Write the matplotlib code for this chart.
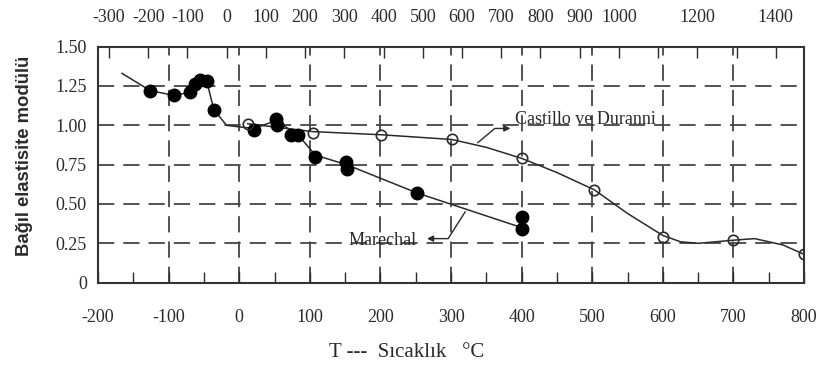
import matplotlib
matplotlib.use("Agg")
import matplotlib.pyplot as plt
from matplotlib.ticker import FixedLocator, MultipleLocator

plt.rcParams["font.family"] = ["Liberation Serif", "DejaVu Serif"]
plt.rcParams["axes.unicode_minus"] = False

# Marechal (filled markers)
mar_t = [-126, -92, -70, -63, -56, -46, -36, 21, 52, 53, 73, 83, 108, 151, 153, 252, 400, 400]
mar_e = [1.22, 1.19, 1.21, 1.26, 1.29, 1.28, 1.10, 0.97, 1.04, 1.00, 0.94, 0.94, 0.80, 0.77, 0.72, 0.57, 0.34, 0.42]
# Marechal curve as drawn
mar_line_t = [-166, -126, -92, -70, -56, -46, -36, -18, 0, 21, 52, 83, 108, 152, 252, 400]
mar_line_e = [1.33, 1.22, 1.19, 1.21, 1.29, 1.28, 1.10, 1.00, 0.99, 0.98, 1.03, 0.94, 0.81, 0.75, 0.57, 0.35]

# Castillo ve Duranni (open markers)
cas_t = [12, 104, 201, 301, 400, 503, 600, 700, 800]
cas_e = [1.01, 0.95, 0.94, 0.91, 0.79, 0.59, 0.29, 0.27, 0.18]
# Castillo curve as drawn
cas_line_t = [12, 104, 201, 301, 350, 400, 450, 503, 550, 600, 625, 650, 700, 730, 770, 800]
cas_line_e = [1.01, 0.96, 0.94, 0.91, 0.86, 0.79, 0.70, 0.59, 0.44, 0.30, 0.26, 0.25, 0.27, 0.28, 0.24, 0.18]

y_ticks = [0, 0.25, 0.50, 0.75, 1.00, 1.25, 1.50]
y_labels = ["0", "0.25", "0.50", "0.75", "1.00", "1.25", "1.50"]
x_ticks = [-200, -100, 0, 100, 200, 300, 400, 500, 600, 700, 800]
f_ticks = list(range(-300, 1500, 100))
f_labels = ["" if f in (1100, 1300) else str(f) for f in f_ticks]

ink = "#2a2a2a"
fs = 13
fig = plt.figure(figsize=(8.19, 3.70), dpi=100)
ax = fig.add_axes([0.1197, 0.236, 0.862, 0.638])

ax.set_xlim(-200, 800)
ax.set_ylim(0, 1.5)

for v in x_ticks[1:-1]:
    ax.axvline(v, color="#444444", lw=1.3, dashes=(9, 5), zorder=1)
for v in y_ticks[1:-1]:
    ax.axhline(v, color="#444444", lw=1.3, dashes=(9, 5), zorder=1)

ax.plot(mar_line_t, mar_line_e, color=ink, lw=1.1, zorder=2)
ax.plot(mar_t, mar_e, "o", color="black", ms=9, zorder=3)
ax.plot(cas_line_t, cas_line_e, color=ink, lw=1.1, zorder=2)
ax.plot(cas_t, cas_e, "o", mfc="none", mec=ink, mew=1.2, ms=7.5, zorder=3)

# labels with bent leaders
ax.plot([338, 362, 380], [0.89, 0.98, 0.98], color=ink, lw=1.0)
ax.annotate("", xy=(388, 0.98), xytext=(375, 0.98),
            arrowprops=dict(arrowstyle="-|>", color=ink, lw=1.0, mutation_scale=9))
ax.text(390, 1.035, "Castillo ve Duranni", fontsize=fs, color=ink, va="center")
ax.plot([320, 296, 272], [0.45, 0.28, 0.28], color=ink, lw=1.0)
ax.annotate("", xy=(262, 0.28), xytext=(276, 0.28),
            arrowprops=dict(arrowstyle="-|>", color=ink, lw=1.0, mutation_scale=9))
ax.text(252, 0.27, "Marechal", fontsize=fs, color=ink, va="center", ha="right")

ax.set_xticks(x_ticks)
ax.xaxis.set_minor_locator(MultipleLocator(50))
ax.set_yticks(y_ticks)
ax.set_yticklabels(y_labels)
ax.tick_params(axis="x", which="both", direction="in", length=8, width=1.0,
               pad=19, labelsize=fs, colors=ink, top=False)
ax.tick_params(axis="y", length=0, pad=8, labelsize=fs, colors=ink)
for s in ax.spines.values():
    s.set_linewidth(1.5)
    s.set_color("#333333")

sec = ax.secondary_xaxis("top", functions=(lambda c: c * 9 / 5 + 32, lambda f: (f - 32) * 5 / 9))
sec.xaxis.set_major_locator(FixedLocator(f_ticks))
sec.set_xticklabels(f_labels)
sec.tick_params(direction="in", length=8, width=1.0, pad=15, labelsize=fs, colors=ink)
sec.spines["top"].set_visible(False)

ax.set_ylabel("Bağıl elastisite modülü", fontsize=13.3, color=ink,
              family=["Liberation Sans", "DejaVu Sans"], weight="bold")
ax.yaxis.set_label_coords(-0.092, 0.538)
fig.text(0.497, 0.046, "T ---  Sıcaklık   °C", fontsize=15, color=ink, ha="center", va="center")

fig.savefig("out.png", dpi=100)
